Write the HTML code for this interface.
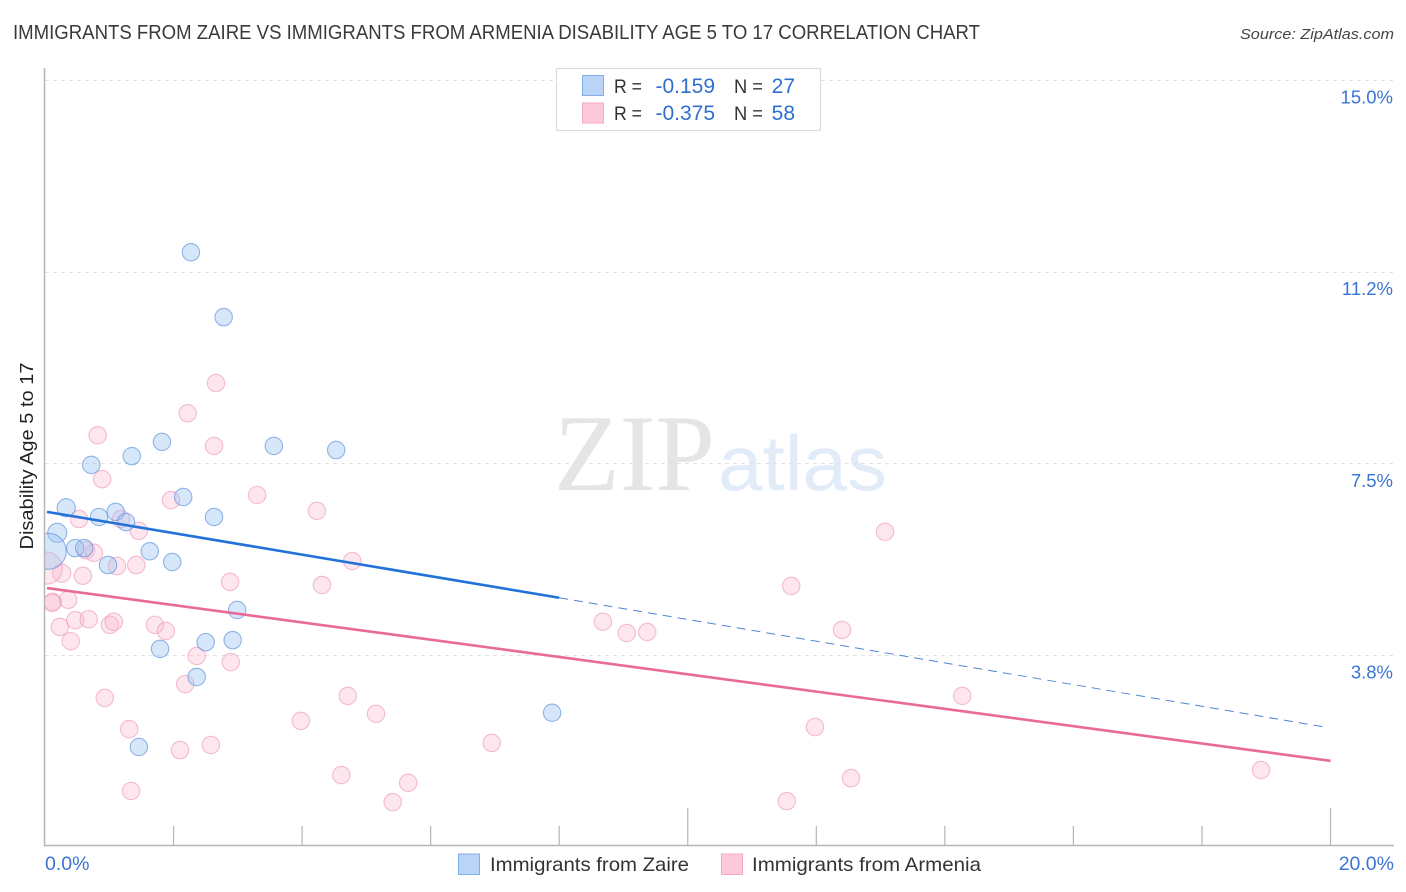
<!DOCTYPE html>
<html lang="en">
<head>
<meta charset="utf-8">
<title>Immigrants from Zaire vs Immigrants from Armenia Disability Age 5 to 17 Correlation Chart</title>
<style>
html,body{margin:0;padding:0;background:#fff;}
svg{display:block;font-family:"Liberation Sans",sans-serif;}
</style>
</head>
<body>
<svg id="chart" xmlns="http://www.w3.org/2000/svg" width="1406" height="892" viewBox="0 0 1406 892">
  <defs>
    <clipPath id="plot-clip"><rect x="45" y="60" width="1350" height="786"/></clipPath>
  </defs>
  <rect x="0" y="0" width="1406" height="892" fill="#ffffff"/>
  <text x="13" y="39" font-size="20" fill="#3a3a3a" textLength="967" lengthAdjust="spacingAndGlyphs">IMMIGRANTS FROM ZAIRE VS IMMIGRANTS FROM ARMENIA DISABILITY AGE 5 TO 17 CORRELATION CHART</text>
  <text x="1394" y="39" font-size="15" font-style="italic" fill="#444444" text-anchor="end" textLength="154" lengthAdjust="spacingAndGlyphs">Source: ZipAtlas.com</text>

  <g>
    <text x="554" y="490" font-family="'Liberation Serif',serif" font-size="109" fill="#e5e5e5" textLength="161" lengthAdjust="spacingAndGlyphs">ZIP</text>
    <text x="718" y="490" font-size="78" fill="#e2ecf9" textLength="169" lengthAdjust="spacingAndGlyphs">atlas</text>
  </g>

  <g id="grid"></g>
  <g id="axes"></g>
  <g id="points-pink" clip-path="url(#plot-clip)"></g>
  <g id="points-blue" clip-path="url(#plot-clip)"></g>
  <g id="trends"></g>
  <g id="y-labels"></g>
  <g id="x-labels"></g>

  <text transform="translate(33,456) rotate(-90)" font-size="18.5" fill="#222222" text-anchor="middle" textLength="187" lengthAdjust="spacingAndGlyphs">Disability Age 5 to 17</text>

  <g>
    <rect x="556.5" y="68.5" width="264" height="62" fill="#ffffff" stroke="#dddddd" stroke-width="1.2"/>
    <rect x="582.5" y="75.5" width="21" height="20" fill="#b9d4f7" stroke="#82ade6"/>
    <rect x="582.5" y="103" width="21" height="20" fill="#fcc8da" stroke="#f3a9c4"/>
    <text x="614" y="93" font-size="19.5" fill="#333333" textLength="28" lengthAdjust="spacingAndGlyphs">R =</text>
    <text x="715" y="93" font-size="21" fill="#2f6fd0" text-anchor="end">-0.159</text>
    <text x="734" y="93" font-size="19.5" fill="#333333" textLength="29" lengthAdjust="spacingAndGlyphs">N =</text>
    <text x="795" y="93" font-size="21" fill="#2f6fd0" text-anchor="end">27</text>
    <text x="614" y="120" font-size="19.5" fill="#333333" textLength="28" lengthAdjust="spacingAndGlyphs">R =</text>
    <text x="715" y="120" font-size="21" fill="#2f6fd0" text-anchor="end">-0.375</text>
    <text x="734" y="120" font-size="19.5" fill="#333333" textLength="29" lengthAdjust="spacingAndGlyphs">N =</text>
    <text x="795" y="120" font-size="21" fill="#2f6fd0" text-anchor="end">58</text>
  </g>

  <g>
    <rect x="458.5" y="854" width="21" height="20.5" fill="#b9d4f7" stroke="#82ade6"/>
    <text x="490" y="871" font-size="19.5" fill="#333333" textLength="199" lengthAdjust="spacingAndGlyphs">Immigrants from Zaire</text>
    <rect x="721.5" y="854" width="21" height="20.5" fill="#fcc8da" stroke="#f3a9c4"/>
    <text x="752" y="871" font-size="19.5" fill="#333333" textLength="229" lengthAdjust="spacingAndGlyphs">Immigrants from Armenia</text>
  </g>
</svg>
<script>
// Y axis ticks and labels
const yTickValues = [15, 11.25, 7.5, 3.75];
const yTickLabels = ["15.0%", "11.2%", "7.5%", "3.8%"];
// X axis ticks and labels
const xTickValues = [2, 4, 6, 8, 10, 12, 14, 16, 18, 20];
const xMajorTicks = [10, 20];
const xEndValues = [0, 20];
const xEndLabels = ["0.0%", "20.0%"];

// Immigrants from Zaire
const zaireX = [2.27,2.78,1.82,1.35,0.72,3.56,4.53,2.15,0.33,0.84,1.10,1.26,2.63,0.19,0.05,0.47,0.61,1.63,0.98,1.98,2.99,2.50,2.92,1.79,2.36,7.89,1.46];
const zaireY = [11.63,10.36,7.92,7.64,7.47,7.84,7.76,6.84,6.63,6.45,6.55,6.35,6.45,6.14,5.78,5.84,5.84,5.78,5.51,5.57,4.63,4.00,4.04,3.87,3.32,2.62,1.95];
const zaireWeight = [1,1,1,1,1,1,1,1,1.1,1,1,1,1,1.2,4.3,1,1,1,1,1,1,1,1,1,1,1,1];

// Immigrants from Armenia
const armeniaX = [0.82,0.89,2.63,1.96,3.30,0.53,1.18,1.46,0.64,0.76,0.26,0.59,1.12,1.42,0.02,2.88,0.36,0.12,0.11,0.47,0.68,0.23,1.01,1.07,1.71,1.88,0.40,2.36,2.89,2.18,0.93,2.22,2.66,4.23,4.78,4.31,13.07,11.61,8.68,9.05,9.37,12.40,14.27,4.71,5.15,3.98,1.31,2.10,2.58,6.95,11.98,4.61,5.65,5.41,1.34,11.54,12.54,18.92];
const armeniaY = [8.05,7.19,7.84,6.78,6.88,6.41,6.41,6.18,5.80,5.75,5.35,5.30,5.49,5.51,5.45,5.18,4.83,4.79,4.77,4.43,4.45,4.30,4.34,4.40,4.34,4.22,4.02,3.73,3.61,3.18,2.91,8.48,9.07,6.57,5.59,5.12,6.16,5.10,4.40,4.18,4.20,4.24,2.95,2.95,2.60,2.46,2.30,1.89,1.99,2.03,2.34,1.40,1.25,0.87,1.09,0.89,1.34,1.50];
const armeniaWeight = [1,1,1,1,1,1,1,1,1,1,1.1,1,1,1,3.4,1,1,1,1,1,1,1,1,1,1,1,1,1,1,1,1,1,1,1,1,1,1,1,1,1,1,1,1,1,1,1,1,1,1,1,1,1,1,1,1,1,1,1];

// Trend lines: [x, y] in data units
const zaireTrendSolidX = [0.03, 8.0];
const zaireTrendSolidY = [6.55, 4.87];
const zaireTrendDashedX = [8.0, 19.91];
const zaireTrendDashedY = [4.87, 2.34];
const armeniaTrendX = [0.03, 20.0];
const armeniaTrendY = [5.06, 1.68];

const NS = "http://www.w3.org/2000/svg";
const xScale = function (v) { return 45 + v * 64.275; };
const yScale = function (v) { return 80 + (15 - v) * 51.11; };
const AXIS_Y = 845.5;

function make(tag, parentId) {
  const el = document.createElementNS(NS, tag);
  document.getElementById(parentId).appendChild(el);
  return el;
}
function setAll(el, attrs) {
  Object.keys(attrs).forEach(function (k) { el.setAttribute(k, attrs[k]); });
}

// Gridlines and y labels
yTickValues.forEach(function (v, i) {
  const y = Math.round(yScale(v)) + 0.5;
  const line = make("line", "grid");
  
  
  setAll(line, {x1: 45, x2: 1394, y1: y, y2: y, stroke: "#e2e2e2", "stroke-width": 1, "stroke-dasharray": "4 4"});
  const label = make("text", "y-labels");
  
  
  setAll(label, {x: 1393, y: yScale(v) + 23.5, "font-size": 18.5, fill: "#3a74d4", "text-anchor": "end"});
  label.textContent = yTickLabels[i];
});

// Axes
const yAxis = make("line", "axes");


setAll(yAxis, {x1: 44.5, x2: 44.5, y1: 68, y2: 846, stroke: "#b5b5b5", "stroke-width": 1.5});
const xAxis = make("line", "axes");


setAll(xAxis, {x1: 44, x2: 1394, y1: AXIS_Y, y2: AXIS_Y, stroke: "#b5b5b5", "stroke-width": 1.5});
xTickValues.forEach(function (v) {
  const x = xScale(v);
  const major = xMajorTicks.indexOf(v) !== -1;
  const tick = make("line", "axes");
  
  
  setAll(tick, {x1: x, x2: x, y1: major ? 808 : 826, y2: AXIS_Y, stroke: "#b5b5b5", "stroke-width": 1.2});
});

// X labels
xEndValues.forEach(function (v, i) {
  const label = make("text", "x-labels");
  
  
  const anchor = i === 0 ? "start" : "end";
  const x = i === 0 ? xScale(v) : 1394;
  setAll(label, {x: x, y: 870, "font-size": 19.5, fill: "#3a74d4", "text-anchor": anchor});
  label.textContent = xEndLabels[i];
});

// Points
function drawPoints(xs, ys, ws, parentId, fill, stroke, name) {
  xs.forEach(function (xv, i) {
    const c = make("circle", parentId);
    
    
    setAll(c, {cx: xScale(xv), cy: yScale(ys[i]), r: 8.7 * Math.sqrt(ws[i]), fill: fill, stroke: stroke, "stroke-width": 1.1});
  });
}
drawPoints(armeniaX, armeniaY, armeniaWeight, "points-pink", "rgba(249,186,208,0.36)", "rgba(238,150,182,0.62)", "armenia-point");
drawPoints(zaireX, zaireY, zaireWeight, "points-blue", "rgba(155,195,243,0.4)", "rgba(92,144,220,0.65)", "zaire-point");

// Trend lines
function drawTrend(xs, ys, stroke, width, dash, name) {
  const l = make("line", "trends");
  
  
  setAll(l, {x1: xScale(xs[0]), y1: yScale(ys[0]), x2: xScale(xs[1]), y2: yScale(ys[1]), stroke: stroke, "stroke-width": width});
  if (dash) { l.setAttribute("stroke-dasharray", dash); }
}
drawTrend(armeniaTrendX, armeniaTrendY, "#e96a9a", 2.6, null, "armenia-trend-line");
drawTrend(zaireTrendSolidX, zaireTrendSolidY, "#2272d9", 2.6, null, "zaire-trend-line");
drawTrend(zaireTrendDashedX, zaireTrendDashedY, "#4f86d6", 1, "9 6", "zaire-trend-line-projected");
</script>
</body>
</html>
